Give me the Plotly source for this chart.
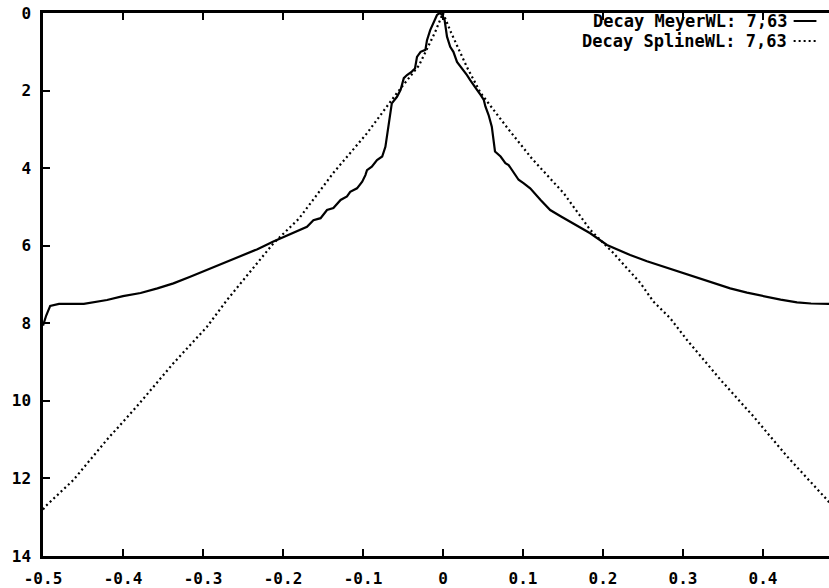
import plotly.graph_objects as go

# ---- data ----
meyer_x = [-0.500, -0.496, -0.491, -0.480, -0.449, -0.420, -0.400, -0.378, -0.357, -0.337,
           -0.316, -0.295, -0.274, -0.253, -0.232, -0.212, -0.195, -0.178, -0.170, -0.162,
           -0.153, -0.145, -0.137, -0.128, -0.120, -0.116, -0.1075, -0.101, -0.097, -0.095,
           -0.089, -0.0825, -0.076, -0.072, -0.068, -0.066, -0.064, -0.0575, -0.053, -0.049,
           -0.045, -0.039, -0.035, -0.0325, -0.028, -0.022, -0.020, -0.016, -0.012, -0.0075,
           -0.004, -0.001, 0.002, 0.005, 0.009, 0.013, 0.0175, 0.022, 0.026, 0.030,
           0.034, 0.038, 0.0425, 0.047, 0.051, 0.053, 0.057, 0.061, 0.063, 0.065,
           0.072, 0.078, 0.082, 0.088, 0.0945, 0.101, 0.109, 0.122, 0.134, 0.147,
           0.159, 0.172, 0.184, 0.205, 0.234, 0.255, 0.276, 0.297, 0.318, 0.339,
           0.359, 0.380, 0.401, 0.422, 0.4425, 0.460, 0.482, 0.490]
meyer_y = [8.06, 7.80, 7.55, 7.50, 7.50, 7.40, 7.30, 7.22, 7.10, 6.97,
           6.80, 6.62, 6.45, 6.28, 6.09, 5.89, 5.74, 5.59, 5.51, 5.34,
           5.29, 5.08, 5.03, 4.82, 4.73, 4.61, 4.52, 4.35, 4.18, 4.05,
           3.96, 3.79, 3.70, 3.45, 2.93, 2.67, 2.33, 2.16, 1.98, 1.68,
           1.60, 1.51, 1.43, 1.13, 1.00, 0.95, 0.70, 0.44, 0.27, 0.05,
           0.00, 0.05, 0.18, 0.61, 0.87, 1.00, 1.26, 1.38, 1.47, 1.60,
           1.73, 1.86, 1.98, 2.11, 2.24, 2.41, 2.63, 2.93, 3.27, 3.57,
           3.70, 3.87, 3.92, 4.09, 4.30, 4.39, 4.52, 4.82, 5.08, 5.24,
           5.38, 5.54, 5.68, 5.98, 6.24, 6.40, 6.54, 6.70, 6.84, 6.98,
           7.10, 7.21, 7.31, 7.39, 7.46, 7.49, 7.50, 7.50]

spline_x = [-0.500, -0.497, -0.462, -0.420, -0.383, -0.337, -0.295, -0.270, -0.253, -0.212,
            -0.180, -0.137, -0.095, -0.0575, -0.030, -0.010, 0.000, 0.010, 0.030, 0.047,
            0.080, 0.111, 0.151, 0.184, 0.213, 0.247, 0.263, 0.284, 0.305, 0.347,
            0.388, 0.430, 0.480, 0.490]
spline_y = [12.80, 12.72, 12.04, 11.00, 10.15, 9.03, 8.09, 7.40, 6.97, 5.94,
            5.30, 4.12, 3.10, 2.06, 1.35, 0.50, 0.00, 0.50, 1.40, 2.06,
            2.95, 3.75, 4.65, 5.59, 6.19, 6.97, 7.44, 7.87, 8.43, 9.46,
            10.40, 11.43, 12.55, 12.80]

x_tickvals = [-0.5, -0.4, -0.3, -0.2, -0.1, 0, 0.1, 0.2, 0.3, 0.4]
x_ticktext = ["-0.5", "-0.4", "-0.3", "-0.2", "-0.1", "0", "0.1", "0.2", "0.3", "0.4"]
y_tickvals = [0, 2, 4, 6, 8, 10, 12, 14]
y_ticktext = ["0", "2", "4", "6", "8", "10", "12", "14"]

series_names = ["Decay MeyerWL: 7,63", "Decay SplineWL: 7,63"]

FONT = dict(family="DejaVu Sans Mono", size=16, color="black", weight="bold")
LEG_FONT = dict(family="DejaVu Sans Mono", size=17, color="black", weight="bold")

fig = go.Figure()
fig.add_trace(go.Scatter(x=meyer_x, y=meyer_y, mode="lines", name=series_names[0],
                         line=dict(color="black", width=2.2), showlegend=False))
fig.add_trace(go.Scatter(x=spline_x, y=spline_y, mode="lines", name=series_names[1],
                         line=dict(color="black", width=2.2, dash="2px,3px"), showlegend=False))

# legend drawn as text followed by a line sample (as in the reference)
leg_y = [0.9853, 0.9485]
dashes = ["solid", "2px,3px"]
for name, yy, d in zip(series_names, leg_y, dashes):
    fig.add_annotation(text=name, xref="paper", yref="paper", x=0.948, y=yy,
                       xanchor="right", yanchor="middle", showarrow=False, font=LEG_FONT,
                       borderpad=0)
    fig.add_shape(type="line", xref="paper", yref="paper", x0=0.955, x1=0.984, y0=yy, y1=yy,
                  line=dict(color="black", width=2, dash=d))

fig.update_xaxes(range=[-0.5, 0.4825], tickvals=x_tickvals, ticktext=x_ticktext,
                 showgrid=False, zeroline=False, showline=True, linecolor="black", linewidth=2.5,
                 mirror="ticks", ticks="inside", ticklen=7, tickwidth=2, tickcolor="black",
                 tickfont=FONT, ticklabelstandoff=6)
fig.update_yaxes(range=[14, 0], tickvals=y_tickvals, ticktext=y_ticktext,
                 showgrid=False, zeroline=False, showline=True, linecolor="black", linewidth=2.5,
                 mirror=False, ticks="inside", ticklen=7, tickwidth=2, tickcolor="black",
                 tickfont=FONT, ticklabelstandoff=6)

fig.update_layout(width=829, height=588, margin=dict(l=43, r=0, t=13, b=32),
                  paper_bgcolor="white", plot_bgcolor="white")

fig.write_html("out.html")
